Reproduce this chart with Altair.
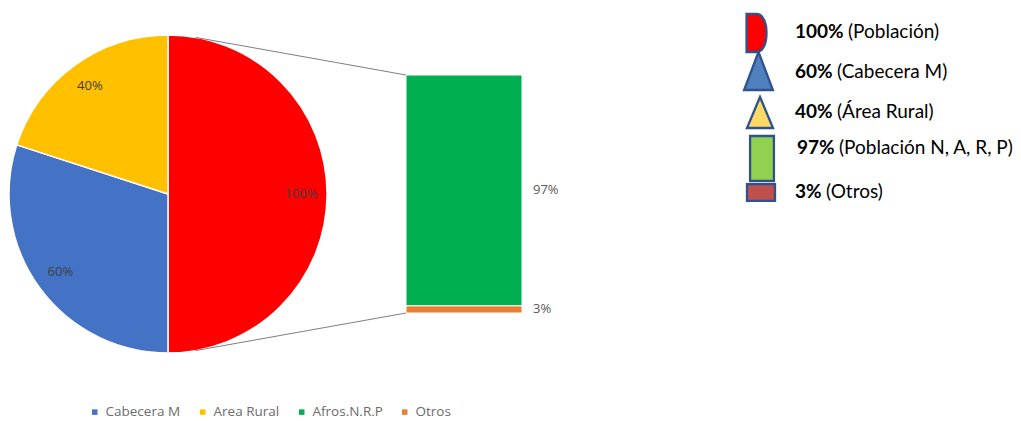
import math
import altair as alt
import pandas as pd

# ---------------- data ----------------
pie_cats = ["Población", "Cabecera M", "Area Rural"]
pie_vals = [100, 60, 40]
bar_cats = ["Afros.N.R.P", "Otros"]
bar_vals = [97, 3]
bottom_legend = ["Cabecera M", "Area Rural", "Afros.N.R.P", "Otros"]
legend_pcts = ["100%", "60%", "40%", "97%", "3%"]
legend_descs = ["(Población)", "(Cabecera M)", "(Área Rural)", "(Población N, A, R, P)", "(Otros)"]

# ---------------- style / layout ----------------
all_cats = pie_cats + bar_cats
cat_colors = ["#FF0000", "#4472C4", "#FFC000", "#00B050", "#ED7D31"]

W, H = 1005, 413
CX, CY, R = 160, 186, 159
LABEL_R = 133
BAR_X0, BAR_X1 = 398, 514
BAR_TOP, BAR_BOTTOM = 67, 305

FONT = "Open Sans"
LFONT = "Lato"
LFS = 19

pie_df = pd.DataFrame({"cat": pie_cats, "val": pie_vals, "ord": list(range(len(pie_cats)))})
pie_df["lbl"] = [f"{v}%" for v in pie_vals]
bar_df = pd.DataFrame({"cat": bar_cats, "val": bar_vals, "ord": [1, 0]})
leg_df = pd.DataFrame({"i": list(range(len(legend_pcts))), "pct": legend_pcts, "desc": legend_descs})

legend = alt.Legend(
    values=bottom_legend, title=None, orient="none", direction="horizontal",
    legendX=80, legendY=397, symbolType="square", symbolSize=30, symbolStrokeWidth=0,
    labelFont=FONT, labelFontSize=13.5, labelColor="#6b6b6b", labelOffset=4,
    columnPadding=15,
)
color_enc = alt.Color("cat:N", scale=alt.Scale(domain=all_cats, range=cat_colors), legend=legend)

# pie
pie = alt.Chart(pie_df).mark_arc(radius=R, stroke="white", strokeWidth=1.5).encode(
    theta=alt.Theta("val:Q", stack=True),
    color=color_enc,
    order=alt.Order("ord:Q"),
    x=alt.value(CX), y=alt.value(CY),
)
pie_text = alt.Chart(pie_df).mark_text(
    radius=LABEL_R, font=FONT, fontSize=13, color="#404040"
).encode(
    theta=alt.Theta("val:Q", stack=True),
    detail="cat:N",
    order=alt.Order("ord:Q"),
    text="lbl:N",
    x=alt.value(CX), y=alt.value(CY),
)

# bar (stacked, Otros at the bottom)
y_scale = alt.Scale(domain=[0, 100], range=[BAR_BOTTOM, BAR_TOP], nice=False, zero=True)
bar_base = alt.Chart(bar_df).transform_stack(
    stack="val", groupby=[], as_=["y0", "y1"], sort=[alt.SortField("ord")]
).transform_calculate(
    mid="(datum.y0 + datum.y1) / 2", lbl="datum.val + '%'"
)
bar = bar_base.mark_rect(stroke="white", strokeWidth=1).encode(
    y=alt.Y("y0:Q", scale=y_scale, axis=None),
    y2="y1:Q",
    color=color_enc,
    x=alt.value(BAR_X0), x2=alt.value(BAR_X1),
)
bar_text = bar_base.mark_text(
    align="left", baseline="middle", font=FONT, fontSize=13, color="#595959"
).encode(
    x=alt.value(BAR_X1 + 11),
    y=alt.Y("mid:Q", scale=y_scale, axis=None),
    text="lbl:N",
)

# connector lines
a_top, a_bot = math.radians(10), math.radians(170)
one = pd.DataFrame({"k": [0]})
conn = []
for ang, by in [(a_top, BAR_TOP), (a_bot, BAR_BOTTOM)]:
    conn.append(alt.Chart(one).mark_rule(color="#7f7f7f", strokeWidth=1).encode(
        x=alt.value(CX + R * math.sin(ang)), y=alt.value(CY - R * math.cos(ang)),
        x2=alt.value(BAR_X0), y2=alt.value(by),
    ))

# right-hand custom legend
shapes = [
    ("M -0.55 -1 L -0.05 -1 C 0.35 -1 0.5 -0.5 0.5 0 C 0.5 0.5 0.35 1 -0.05 1 L -0.55 1 Z", 1444, "#FF0000", 749, 25),
    ("M 0 -1 L 0.76 1 L -0.76 1 Z", 1444, "#4E81BD", 750.5, 63),
    ("M 0 -1 L 0.84 1 L -0.84 1 Z", 961, "#FFD966", 752, 104.5),
    ("M -0.53 -1 L 0.53 -1 L 0.53 1 L -0.53 1 Z", 2025, "#92D050", 754, 150.5),
    ("M -1 -0.6 L 1 -0.6 L 1 0.6 L -1 0.6 Z", 784, "#C0504D", 753, 184.5),
]
TEXT_Y = [29.5, 69.5, 109.5, 145.5, 189.5]
BOLD_X = [787, 787, 787, 789, 787]
DESC_X = [840, 829, 829, 831, 818]

leg_layers = []
for k, (path, size, fill, sx, sy) in enumerate(shapes):
    base = alt.Chart(leg_df).transform_filter(alt.datum.i == k)
    leg_layers.append(base.mark_point(
        shape=path, size=size, filled=True, fill=fill, stroke="#2F528F",
        strokeWidth=2.3, opacity=1,
    ).encode(x=alt.value(sx), y=alt.value(sy)))
    leg_layers.append(base.mark_text(
        align="left", baseline="alphabetic", font=LFONT, fontSize=LFS,
        fontWeight="bold", color="#000000",
    ).encode(x=alt.value(BOLD_X[k]), y=alt.value(TEXT_Y[k]), text="pct:N"))
    leg_layers.append(base.mark_text(
        align="left", baseline="alphabetic", font=LFONT, fontSize=LFS,
        color="#000000",
    ).encode(x=alt.value(DESC_X[k]), y=alt.value(TEXT_Y[k]), text="desc:N"))

chart = alt.layer(pie, pie_text, bar, bar_text, *conn, *leg_layers).properties(
    width=W, height=H, padding=0, autosize=alt.AutoSizeParams(type="none"),
    background="white",
).configure_view(stroke=None)

chart.save("out.html", embed_options={"renderer": "svg", "actions": False})
